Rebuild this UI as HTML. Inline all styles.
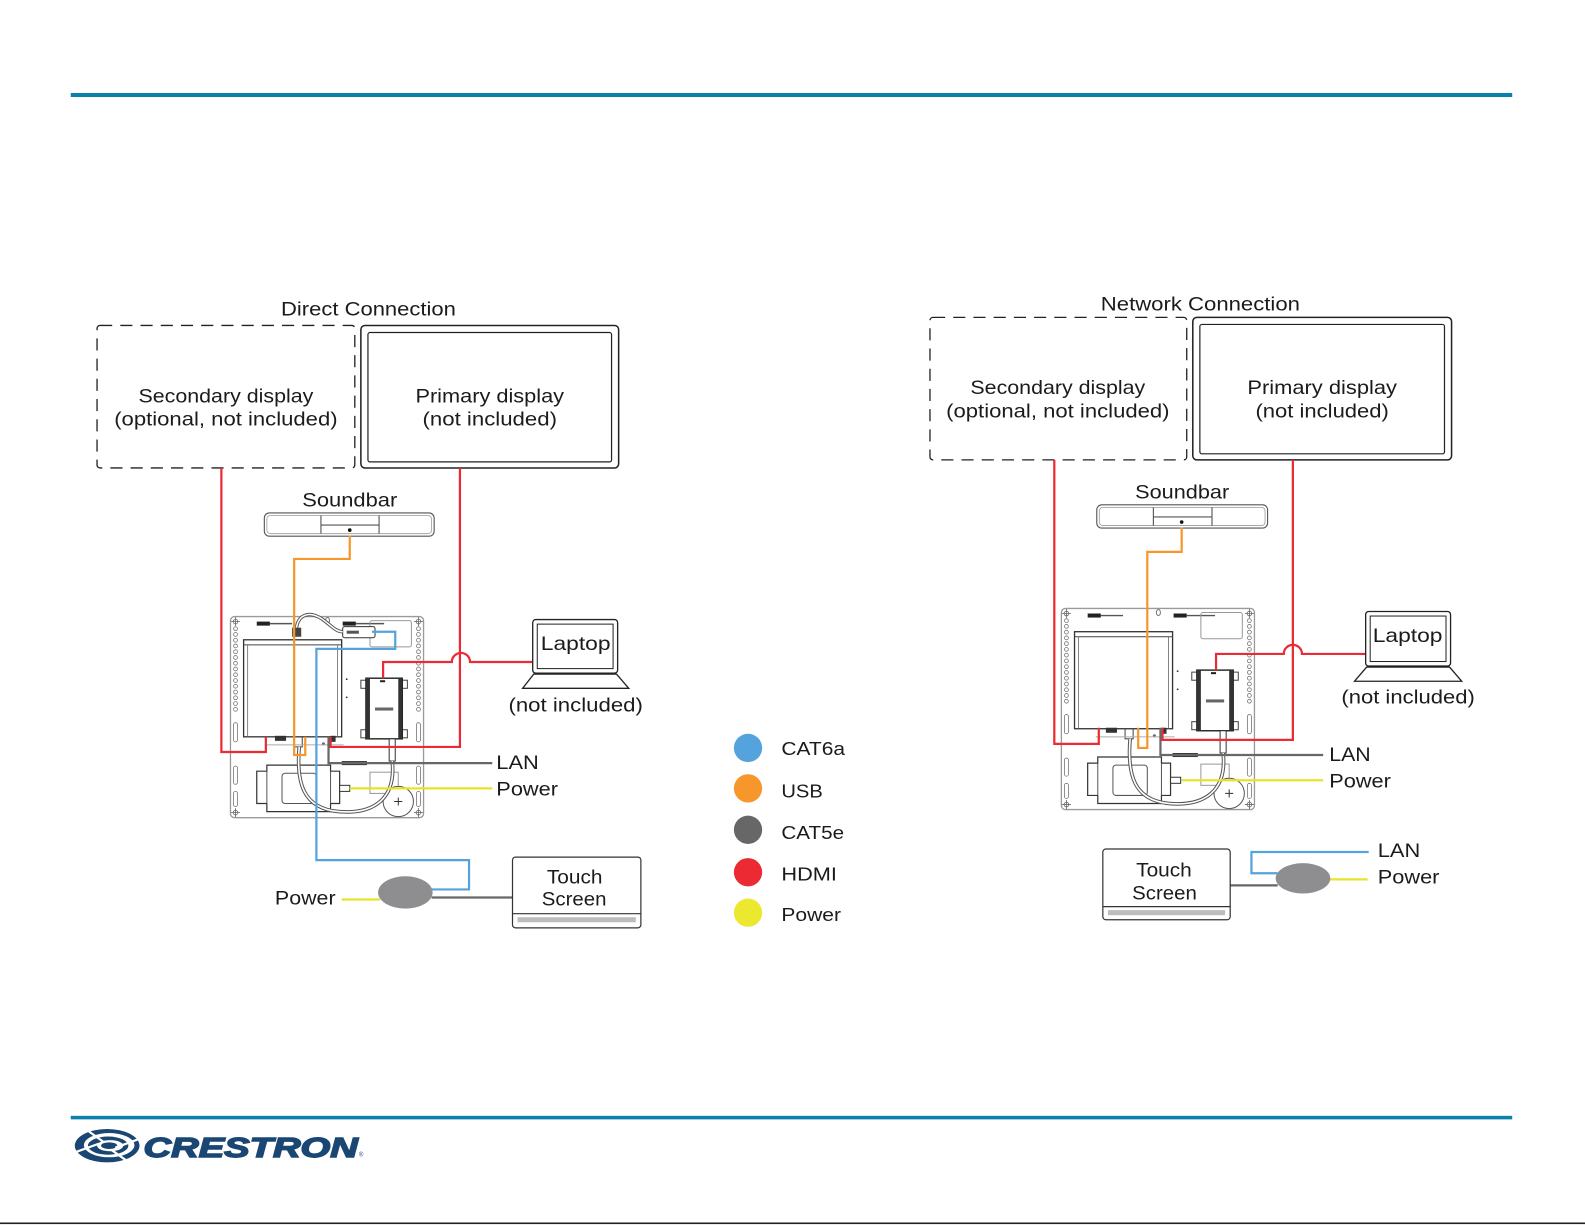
<!DOCTYPE html>
<html><head><meta charset="utf-8"><style>
html,body{margin:0;padding:0;background:#fff;}
svg{display:block;}
text{font-family:"Liberation Sans",sans-serif;fill:#1b1b1b;font-size:19.5px;}
</style></head><body>
<svg width="1585" height="1225" viewBox="0 0 1568 1212" preserveAspectRatio="none" xmlns="http://www.w3.org/2000/svg">
<defs>
<g id="plate" fill="none" stroke="#8a8a8a" stroke-width="1">
  <rect x="228" y="610" width="191" height="199" rx="4" stroke="#9a9a9a" stroke-width="1.3"/>
  <g stroke="#666" stroke-width="0.8">
    <circle cx="233" cy="615" r="2.3"/><path d="M233 610.5V619.5M228.5 615H237.5"/>
    <circle cx="414" cy="615" r="2.3"/><path d="M414 610.5V619.5M409.5 615H418.5"/>
    <circle cx="233" cy="804" r="2.3"/><path d="M233 799.5V808.5M228.5 804H237.5"/>
    <circle cx="414" cy="804" r="2.3"/><path d="M414 799.5V808.5M409.5 804H418.5"/>
  </g>
  <g stroke="#777" stroke-width="0.8">
    <circle cx="233" cy="622" r="1.9"/><circle cx="233" cy="627.7" r="1.9"/><circle cx="233" cy="633.4" r="1.9"/><circle cx="233" cy="639.1" r="1.9"/><circle cx="233" cy="644.8" r="1.9"/><circle cx="233" cy="650.5" r="1.9"/><circle cx="233" cy="656.2" r="1.9"/><circle cx="233" cy="661.9" r="1.9"/><circle cx="233" cy="667.6" r="1.9"/><circle cx="233" cy="673.3" r="1.9"/><circle cx="233" cy="679" r="1.9"/><circle cx="233" cy="684.7" r="1.9"/><circle cx="233" cy="690.4" r="1.9"/><circle cx="233" cy="696.1" r="1.9"/><circle cx="233" cy="701.8" r="1.9"/>
    <circle cx="414" cy="622" r="1.9"/><circle cx="414" cy="627.7" r="1.9"/><circle cx="414" cy="633.4" r="1.9"/><circle cx="414" cy="639.1" r="1.9"/><circle cx="414" cy="644.8" r="1.9"/><circle cx="414" cy="650.5" r="1.9"/><circle cx="414" cy="656.2" r="1.9"/><circle cx="414" cy="661.9" r="1.9"/><circle cx="414" cy="667.6" r="1.9"/><circle cx="414" cy="673.3" r="1.9"/><circle cx="414" cy="679" r="1.9"/><circle cx="414" cy="684.7" r="1.9"/><circle cx="414" cy="690.4" r="1.9"/><circle cx="414" cy="696.1" r="1.9"/><circle cx="414" cy="701.8" r="1.9"/>
    <rect x="231" y="715" width="4" height="19" rx="2"/><rect x="231" y="758" width="4" height="18" rx="2"/><rect x="231" y="783" width="4" height="15" rx="2"/>
    <rect x="412" y="715" width="4" height="19" rx="2"/><rect x="412" y="758" width="4" height="18" rx="2"/><rect x="412" y="783" width="4" height="15" rx="2"/>
  </g>
  <rect x="254" y="615" width="13" height="4" fill="#222" stroke="none"/>
  <line x1="267" y1="617" x2="289" y2="617" stroke="#555" stroke-width="1.4"/>
  <rect x="339" y="615" width="13" height="4" fill="#222" stroke="none"/>
  <line x1="352" y1="617" x2="380" y2="617" stroke="#555" stroke-width="1.4"/>
  <ellipse cx="324" cy="614" rx="2" ry="3" stroke="#777"/>
  <rect x="366" y="614" width="41" height="26" rx="2" stroke="#999"/>
  <rect x="241" y="633" width="97" height="96" fill="#fff" stroke="#333" stroke-width="1.3"/>
  <line x1="241" y1="638" x2="338" y2="638" stroke="#444"/>
  <line x1="245" y1="638" x2="245" y2="729" stroke="#666" stroke-width="0.8"/>
  <line x1="334" y1="638" x2="334" y2="729" stroke="#666" stroke-width="0.8"/>
  <rect x="272" y="728" width="11" height="5" fill="#333" stroke="none"/>
  <rect x="291" y="729" width="8" height="10" stroke="#444"/>
  <rect x="327" y="728" width="5" height="6" fill="#333" stroke="none"/>
  <circle cx="320" cy="736" r="1.5" fill="#666" stroke="none"/>
  <line x1="262" y1="737" x2="340" y2="737" stroke="#aaa"/>
  <rect x="357" y="673" width="46" height="8" fill="#fff" stroke="#444"/>
  <rect x="357" y="722" width="46" height="8" fill="#fff" stroke="#444"/>
  <rect x="362" y="671" width="36" height="60" fill="#fff" stroke="#222" stroke-width="1.4"/>
  <rect x="362" y="671" width="4" height="60" fill="#333" stroke="none"/>
  <rect x="394" y="671" width="4" height="60" fill="#333" stroke="none"/>
  <rect x="376" y="673" width="5" height="2" fill="#222" stroke="none"/>
  <rect x="371" y="700" width="18" height="3" fill="#666" stroke="none"/>
  <rect x="385" y="731" width="6" height="22" fill="#fff" stroke="#333"/>
  <rect x="366" y="764" width="28" height="21" stroke="#999"/>
  <circle cx="343" cy="672" r="0.9" fill="#333" stroke="none"/>
  <circle cx="343" cy="690" r="0.9" fill="#333" stroke="none"/>
  <path d="M254 763 H264 V757 H327 V763 H336 V795 H327 V803 H264 V795 H254 Z" fill="#fff" stroke="#333" stroke-width="1.2"/>
  <rect x="279" y="765" width="34" height="30" rx="3" stroke="#555"/>
  <line x1="264" y1="763" x2="264" y2="795" stroke="#555"/>
  <line x1="327" y1="763" x2="327" y2="795" stroke="#555"/>
  <rect x="336" y="777" width="10" height="6" fill="#fff" stroke="#333"/>
  <rect x="338" y="753" width="25" height="4" fill="#333" stroke="none"/>
  <circle cx="394" cy="793" r="15" fill="#fff" stroke="#555"/>
  <path d="M394 789V797M390 793H398" stroke="#333"/>
  <path d="M296 739 C 293 775, 300 800, 335 803 C 370 806, 392 790, 388 753" stroke="#555" stroke-width="3.6"/>
  <path d="M296 739 C 293 775, 300 800, 335 803 C 370 806, 392 790, 388 753" stroke="#fff" stroke-width="1.6"/>
</g>
</defs>

<rect x="70" y="92" width="1426" height="4" fill="#0a80ab"/>
<rect x="70" y="1104" width="1426" height="3.5" fill="#0a80ab"/>
<rect x="0" y="1209.5" width="1568" height="1.6" fill="#222"/>

<g transform="translate(106,1133.5)">
  <ellipse rx="32" ry="16.5" fill="#1a4673"/>
  <ellipse cx="2" cy="-0.5" rx="25" ry="12" fill="#fff"/>
  <ellipse cx="1" cy="0" rx="20" ry="9" fill="#1a4673"/>
  <ellipse cx="3" cy="0" rx="13" ry="5.5" fill="#fff"/>
  <ellipse cx="2" cy="0" rx="8" ry="3.3" fill="#1a4673"/>
  <path d="M-30 6 L-8 -2 M30 -6 L8 2 M-18 -14 L-4 -4 M18 14 L4 4" stroke="#fff" stroke-width="2.2"/>
</g>
<text x="142" y="1144.5" textLength="212" lengthAdjust="spacingAndGlyphs" style="font-size:27px;font-weight:bold;font-style:italic;fill:#1a4673;stroke:#1a4673;stroke-width:1.4px;">CRESTRON</text>
<text x="355" y="1144" style="font-size:6px;fill:#1a4673;">®</text>

<text x="364.5" y="312" text-anchor="middle" textLength="173" lengthAdjust="spacingAndGlyphs">Direct Connection</text>
<rect x="96" y="322" width="255" height="141" rx="3" fill="none" stroke="#222" stroke-width="1.3" stroke-dasharray="12 8"/>
<text x="223.5" y="398" text-anchor="middle" textLength="173" lengthAdjust="spacingAndGlyphs">Secondary display</text>
<text x="223.5" y="421" text-anchor="middle" textLength="221" lengthAdjust="spacingAndGlyphs">(optional, not included)</text>
<rect x="357" y="322" width="255" height="141" rx="4" fill="none" stroke="#222" stroke-width="1.5"/>
<rect x="364" y="329" width="241" height="128" rx="2" fill="none" stroke="#222" stroke-width="1.2"/>
<text x="484.5" y="398" text-anchor="middle" textLength="147" lengthAdjust="spacingAndGlyphs">Primary display</text>
<text x="484.5" y="421" text-anchor="middle" textLength="133" lengthAdjust="spacingAndGlyphs">(not included)</text>

<text x="346" y="501" text-anchor="middle" textLength="94" lengthAdjust="spacingAndGlyphs">Soundbar</text>
<g fill="none" stroke="#555" stroke-width="1.1">
  <rect x="261.5" y="507.5" width="168" height="23" rx="5"/>
  <rect x="264" y="510" width="163" height="18" rx="3.5" stroke="#999" stroke-width="0.8"/>
  <path d="M317.5 510V528M375 510V528M317.5 519.5H375"/>
</g>
<circle cx="346" cy="524.5" r="1.8" fill="#111"/>

<use href="#plate"/>
<rect x="339" y="620" width="32" height="11" rx="2" fill="#fff" stroke="#333"/>
<rect x="343" y="624" width="12" height="3" fill="#555"/>
<path d="M293 626 C 293 608, 305 604, 318 612 C 328 619, 332 625, 339 625" fill="none" stroke="#555" stroke-width="3.4"/>
<path d="M293 626 C 293 608, 305 604, 318 612 C 328 619, 332 625, 339 625" fill="none" stroke="#fff" stroke-width="1.5"/>
<rect x="289" y="621" width="9" height="9" fill="#444"/>

<g fill="none" stroke-width="2.2" stroke-linejoin="miter">
  <path d="M219 463 V744 H263 V729" stroke="#ec2a34"/>
  <path d="M455 463 V739 H327 V729" stroke="#ec2a34"/>
  <path d="M527 655 H465 A9 9 0 0 0 447 655 H379 V671" stroke="#ec2a34"/>
  <path d="M346 530 V553 H291 V747 H302 V729" stroke="#f7962a"/>
  <path d="M368 625 H391 V642 H313 V851 H464 V880 H427" stroke="#55a3dc"/>
  <path d="M325 729 V755 H487" stroke="#666766"/>
  <path d="M346 780 H487" stroke="#e8e22a"/>
  <path d="M338 890 H376" stroke="#e8e22a"/>
  <path d="M427 888 H508" stroke="#666766"/>
</g>
<ellipse cx="401" cy="883" rx="27" ry="16" fill="#8e8e90"/>

<g fill="none" stroke="#222" stroke-width="1.3">
  <rect x="527" y="613" width="84" height="53" rx="3" fill="#fff"/>
  <rect x="531.5" y="617.5" width="75" height="44" stroke-width="1"/>
  <path d="M528 667 H610 L622 681 H517 Z" fill="#fff"/>
</g>
<text x="569.5" y="643" text-anchor="middle" textLength="69" lengthAdjust="spacingAndGlyphs">Laptop</text>
<text x="569.5" y="704" text-anchor="middle" textLength="133" lengthAdjust="spacingAndGlyphs">(not included)</text>
<text x="491" y="761" textLength="42" lengthAdjust="spacingAndGlyphs">LAN</text>
<text x="491" y="787" textLength="61" lengthAdjust="spacingAndGlyphs">Power</text>
<text x="272" y="895" textLength="60" lengthAdjust="spacingAndGlyphs">Power</text>

<g fill="none" stroke="#333" stroke-width="1.2">
  <rect x="507" y="848" width="127" height="70" rx="3" fill="#fff"/>
  <line x1="507" y1="904" x2="634" y2="904"/>
</g>
<rect x="512" y="907.5" width="117" height="5" fill="#bdbdbd"/>
<text x="568.5" y="874" text-anchor="middle" textLength="55" lengthAdjust="spacingAndGlyphs">Touch</text>
<text x="568" y="896" text-anchor="middle" textLength="64" lengthAdjust="spacingAndGlyphs">Screen</text>

<circle cx="740" cy="740" r="14" fill="#55a3dc"/>
<circle cx="740" cy="780" r="14" fill="#f7962a"/>
<circle cx="740" cy="821" r="14" fill="#666766"/>
<circle cx="740" cy="863" r="14" fill="#ec2a34"/>
<circle cx="740" cy="903" r="14" fill="#ece72f"/>
<text x="773" y="747" textLength="63" lengthAdjust="spacingAndGlyphs" style="font-size:18.5px">CAT6a</text>
<text x="773" y="789" textLength="41" lengthAdjust="spacingAndGlyphs" style="font-size:18.5px">USB</text>
<text x="773" y="830" textLength="62" lengthAdjust="spacingAndGlyphs" style="font-size:18.5px">CAT5e</text>
<text x="773" y="871" textLength="55" lengthAdjust="spacingAndGlyphs" style="font-size:18.5px">HDMI</text>
<text x="773" y="911" textLength="59" lengthAdjust="spacingAndGlyphs" style="font-size:18.5px">Power</text>

<text x="1187.5" y="307" text-anchor="middle" textLength="197" lengthAdjust="spacingAndGlyphs">Network Connection</text>
<rect x="920" y="314" width="254" height="141" rx="3" fill="none" stroke="#222" stroke-width="1.3" stroke-dasharray="12 8"/>
<text x="1046.5" y="390" text-anchor="middle" textLength="173" lengthAdjust="spacingAndGlyphs">Secondary display</text>
<text x="1046.5" y="413" text-anchor="middle" textLength="221" lengthAdjust="spacingAndGlyphs">(optional, not included)</text>
<rect x="1180" y="314" width="256" height="141" rx="4" fill="none" stroke="#222" stroke-width="1.5"/>
<rect x="1187" y="321" width="242" height="128" rx="2" fill="none" stroke="#222" stroke-width="1.2"/>
<text x="1308" y="390" text-anchor="middle" textLength="148" lengthAdjust="spacingAndGlyphs">Primary display</text>
<text x="1308" y="413" text-anchor="middle" textLength="132" lengthAdjust="spacingAndGlyphs">(not included)</text>

<text x="1169.5" y="493" text-anchor="middle" textLength="93" lengthAdjust="spacingAndGlyphs">Soundbar</text>
<g fill="none" stroke="#555" stroke-width="1.1">
  <rect x="1085" y="499.5" width="169" height="23" rx="5"/>
  <rect x="1087.5" y="502" width="164" height="18" rx="3.5" stroke="#999" stroke-width="0.8"/>
  <path d="M1141 502V520M1199 502V520M1141 511.5H1199"/>
</g>
<circle cx="1169" cy="516.5" r="1.8" fill="#111"/>

<use href="#plate" transform="translate(822,-8)"/>

<g fill="none" stroke-width="2.2" stroke-linejoin="miter">
  <path d="M1043 455 V736 H1087 V720" stroke="#ec2a34"/>
  <path d="M1279 455 V732 H1150 V720" stroke="#ec2a34"/>
  <path d="M1351 647 H1288 A9 9 0 0 0 1270 647 H1203 V663" stroke="#ec2a34"/>
  <path d="M1169 522 V546 H1135 V740 H1126 V720" stroke="#f7962a"/>
  <path d="M1148 720 V747 H1309" stroke="#666766"/>
  <path d="M1169 772 H1309" stroke="#e8e22a"/>
  <path d="M1217 876 H1264" stroke="#666766"/>
  <path d="M1264 864 H1238 V843 H1354" stroke="#55a3dc"/>
  <path d="M1315 870 H1353" stroke="#e8e22a"/>
</g>
<ellipse cx="1289" cy="869" rx="27" ry="15" fill="#8e8e90"/>

<g fill="none" stroke="#222" stroke-width="1.3">
  <rect x="1351" y="605" width="84" height="54" rx="3" fill="#fff"/>
  <rect x="1355.5" y="609.5" width="75" height="45" stroke-width="1"/>
  <path d="M1352 660 H1434 L1446 674 H1340 Z" fill="#fff"/>
</g>
<text x="1392.5" y="635" text-anchor="middle" textLength="69" lengthAdjust="spacingAndGlyphs">Laptop</text>
<text x="1393" y="696" text-anchor="middle" textLength="132" lengthAdjust="spacingAndGlyphs">(not included)</text>
<text x="1315" y="753" textLength="41" lengthAdjust="spacingAndGlyphs">LAN</text>
<text x="1315" y="779" textLength="61" lengthAdjust="spacingAndGlyphs">Power</text>

<g fill="none" stroke="#333" stroke-width="1.2">
  <rect x="1091" y="840" width="126" height="70" rx="3" fill="#fff"/>
  <line x1="1091" y1="897" x2="1217" y2="897"/>
</g>
<rect x="1096" y="900.5" width="116" height="5" fill="#bdbdbd"/>
<text x="1151.5" y="867" text-anchor="middle" textLength="55" lengthAdjust="spacingAndGlyphs">Touch</text>
<text x="1152" y="890" text-anchor="middle" textLength="64" lengthAdjust="spacingAndGlyphs">Screen</text>
<text x="1363" y="848" textLength="42" lengthAdjust="spacingAndGlyphs">LAN</text>
<text x="1363" y="874" textLength="61" lengthAdjust="spacingAndGlyphs">Power</text>
</svg>
</body></html>
